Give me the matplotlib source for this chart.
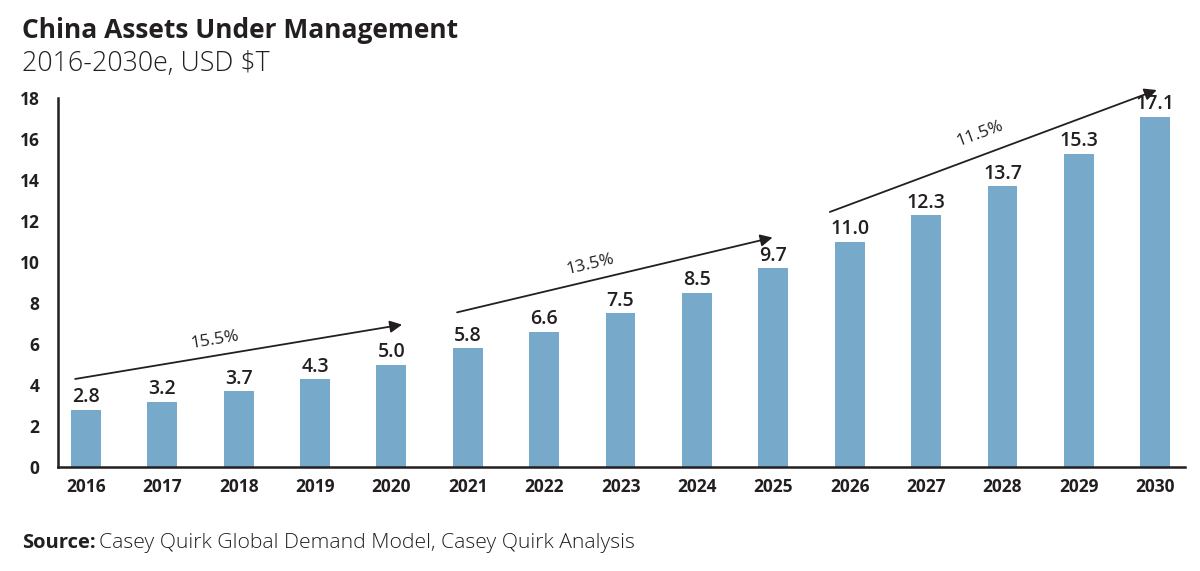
import matplotlib
matplotlib.use("Agg")
import matplotlib.pyplot as plt

plt.rcParams['font.family'] = ['Open Sans', 'DejaVu Sans']

# data
years = ['2016', '2017', '2018', '2019', '2020', '2021', '2022', '2023',
         '2024', '2025', '2026', '2027', '2028', '2029', '2030']
aum = [2.8, 3.2, 3.7, 4.3, 5.0, 5.8, 6.6, 7.5, 8.5, 9.7, 11.0, 12.3, 13.7, 15.3, 17.1]
cagr_labels = ['15.5%', '13.5%', '11.5%']
# arrow start/end (x index, y value) and label spot
arrow_from = [(-0.14, 4.3), (4.86, 7.55), (9.74, 12.45)]
arrow_to = [(4.14, 6.95), (8.99, 11.2), (14.02, 18.4)]
label_at = [(1.69, 6.2), (6.61, 9.9), (11.7, 16.25)]
label_rot = [9.4, 13.3, 20.3]

bar_color = '#77aaca'
text_color = '#231f20'

fig = plt.figure(figsize=(12, 5.71), dpi=100)
ax = fig.add_axes([0.048, 0.182, 0.9395, 0.646])

x = range(len(years))
ax.bar(x, aum, width=0.39, color=bar_color)
for i, v in enumerate(aum):
    ax.text(i, v + 0.12, f'{v:.1f}', ha='center', va='bottom',
            fontsize=14, color=text_color, fontweight='semibold')

for (x0, y0), (x1, y1), lab, (lx, ly), rot in zip(arrow_from, arrow_to, cagr_labels, label_at, label_rot):
    ax.annotate('', xy=(x1, y1), xytext=(x0, y0), annotation_clip=False,
                arrowprops=dict(arrowstyle='-|>', color=text_color, lw=1.3,
                                mutation_scale=18, shrinkA=0, shrinkB=0))
    ax.text(lx, ly, lab, ha='center', va='center', rotation=rot,
            fontsize=12.5, color=text_color)

ax.set_xlim(-0.37, 14.39)
ax.set_ylim(0, 18)
ax.set_yticks(range(0, 19, 2))
ax.set_xticks(list(x))
ax.set_xticklabels(years)
ax.tick_params(axis='both', length=0, labelsize=12.5, colors=text_color, pad=8)
ax.tick_params(axis='y', pad=13)
for lab in ax.get_xticklabels() + ax.get_yticklabels():
    lab.set_fontweight('bold')
for s in ['top', 'right']:
    ax.spines[s].set_visible(False)
for s in ['left', 'bottom']:
    ax.spines[s].set_linewidth(1.8)
    ax.spines[s].set_color(text_color)

fig.text(0.018, 0.947, 'China Assets Under Management', fontsize=19,
         fontweight='bold', color=text_color, va='center')
fig.text(0.018, 0.888, '2016-2030e, USD $T', fontsize=19.3,
         fontweight='light', color=text_color, va='center')
fig.text(0.018, 0.049, 'Source:', fontsize=14.5, fontweight='bold',
         color=text_color, va='center')
fig.text(0.0825, 0.049, 'Casey Quirk Global Demand Model, Casey Quirk Analysis',
         fontsize=15.2, fontweight='light', color=text_color, va='center')

fig.savefig('out.png', dpi=100)
